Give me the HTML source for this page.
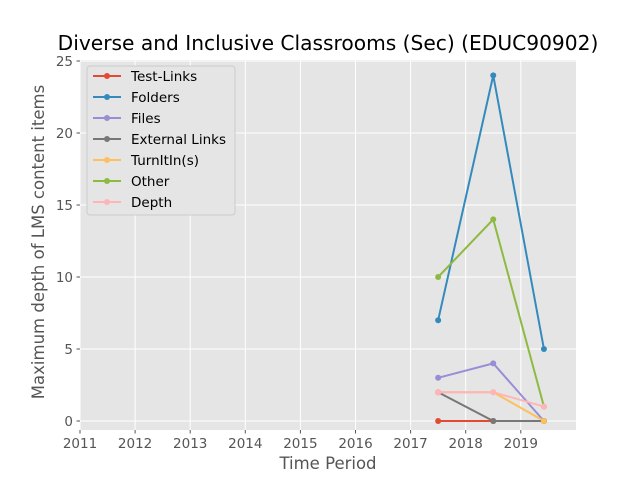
<!DOCTYPE html>
<html><head><meta charset="utf-8"><style>
body{margin:0;background:#fff;font-family:"Liberation Sans","DejaVu Sans",sans-serif;}
</style></head><body>
<svg id="chart" width="640" height="480" xmlns="http://www.w3.org/2000/svg" font-family="DejaVu Sans, Liberation Sans, sans-serif"></svg>
<script>
const years=[2017.5,2018.5,2019.42];
const seriesNames=["Test-Links","Folders","Files","External Links","TurnItIn(s)","Other","Depth"];
const colors=["#E24A33","#348ABD","#988ED5","#777777","#FBC15E","#8EBA42","#FFB5B8"];
const testLinks=[0,0,0];
const folders=[7,24,5];
const files=[3,4,0];
const externalLinks=[2,0,0];
const turnitin=[2,2,0];
const other=[10,14,1];
const depth=[2,2,1];
const allSeries=[testLinks,folders,files,externalLinks,turnitin,other,depth];
const xTicks=[2011,2012,2013,2014,2015,2016,2017,2018,2019];
const yTicks=[0,5,10,15,20,25];

const L=80,R=576,T=60,B=430;
const x0=2011,xPer=55.1;
const sx=v=>L+(v-x0)*xPer;
const sy=v=>421-v*14.4;
const svg=document.getElementById('chart');
const NS="http://www.w3.org/2000/svg";
function el(tag,attrs,parent){const e=document.createElementNS(NS,tag);for(const k in attrs)e.setAttribute(k,attrs[k]);(parent||svg).appendChild(e);return e;}

const bg=el('rect',{x:L,y:T,width:R-L,height:B-T,fill:'#E5E5E5'});



xTicks.forEach(t=>{
  const x=sx(t);
  const g=el('line',{x1:x,x2:x,y1:T,y2:B,stroke:'#fff','stroke-width':1});
  
  
  el('line',{x1:x,x2:x,y1:B,y2:B+3.5,stroke:'#555'});
  const tx=el('text',{x:x,y:B+18,'text-anchor':'middle','font-size':13.5,fill:'#555'});
  tx.textContent=t;
  
  
});
yTicks.forEach(t=>{
  const y=sy(t);
  const g=el('line',{x1:L,x2:R,y1:y,y2:y,stroke:'#fff','stroke-width':1});
  
  
  el('line',{x1:L-3.5,x2:L,y1:y,y2:y,stroke:'#555'});
  const tx=el('text',{x:L-7,y:y+5,'text-anchor':'end','font-size':13.5,fill:'#555'});
  tx.textContent=t;
  
  
});

allSeries.forEach((s,i)=>{
  const pts=s.map((v,j)=>sx(years[j])+','+sy(v)).join(' ');
  const pl=el('polyline',{points:pts,fill:'none',stroke:colors[i],'stroke-width':2});
  
  
  s.forEach((v,j)=>{
    const c=el('circle',{cx:sx(years[j]),cy:sy(v),r:3,fill:colors[i]});
    
    
  });
});

const title=el('text',{x:328,y:50,'text-anchor':'middle','font-size':20.2,fill:'#000'});
title.textContent='Diverse and Inclusive Classrooms (Sec) (EDUC90902)';


const xt=el('text',{x:328,y:469,'text-anchor':'middle','font-size':16.5,fill:'#555'});
xt.textContent='Time Period';


const yt=el('text',{x:44,y:242,'text-anchor':'middle','font-size':16.5,fill:'#555',transform:'rotate(-90 44 242)'});
yt.textContent='Maximum depth of LMS content items';



const lg=el('g',{});


el('rect',{x:87,y:66,width:148,height:149,fill:'#E5E5E5',stroke:'#ccc','stroke-width':1,rx:3},lg);
seriesNames.forEach((n,i)=>{
  const y=76+i*21;
  const g=el('g',{},lg);
  
  
  el('line',{x1:93,x2:121,y1:y,y2:y,stroke:colors[i],'stroke-width':2},g);
  el('circle',{cx:107,cy:y,r:3,fill:colors[i]},g);
  const t=el('text',{x:131,y:y+5,'font-size':13.5,fill:'#000'},g);
  t.textContent=n;
});
</script>
</body></html>
